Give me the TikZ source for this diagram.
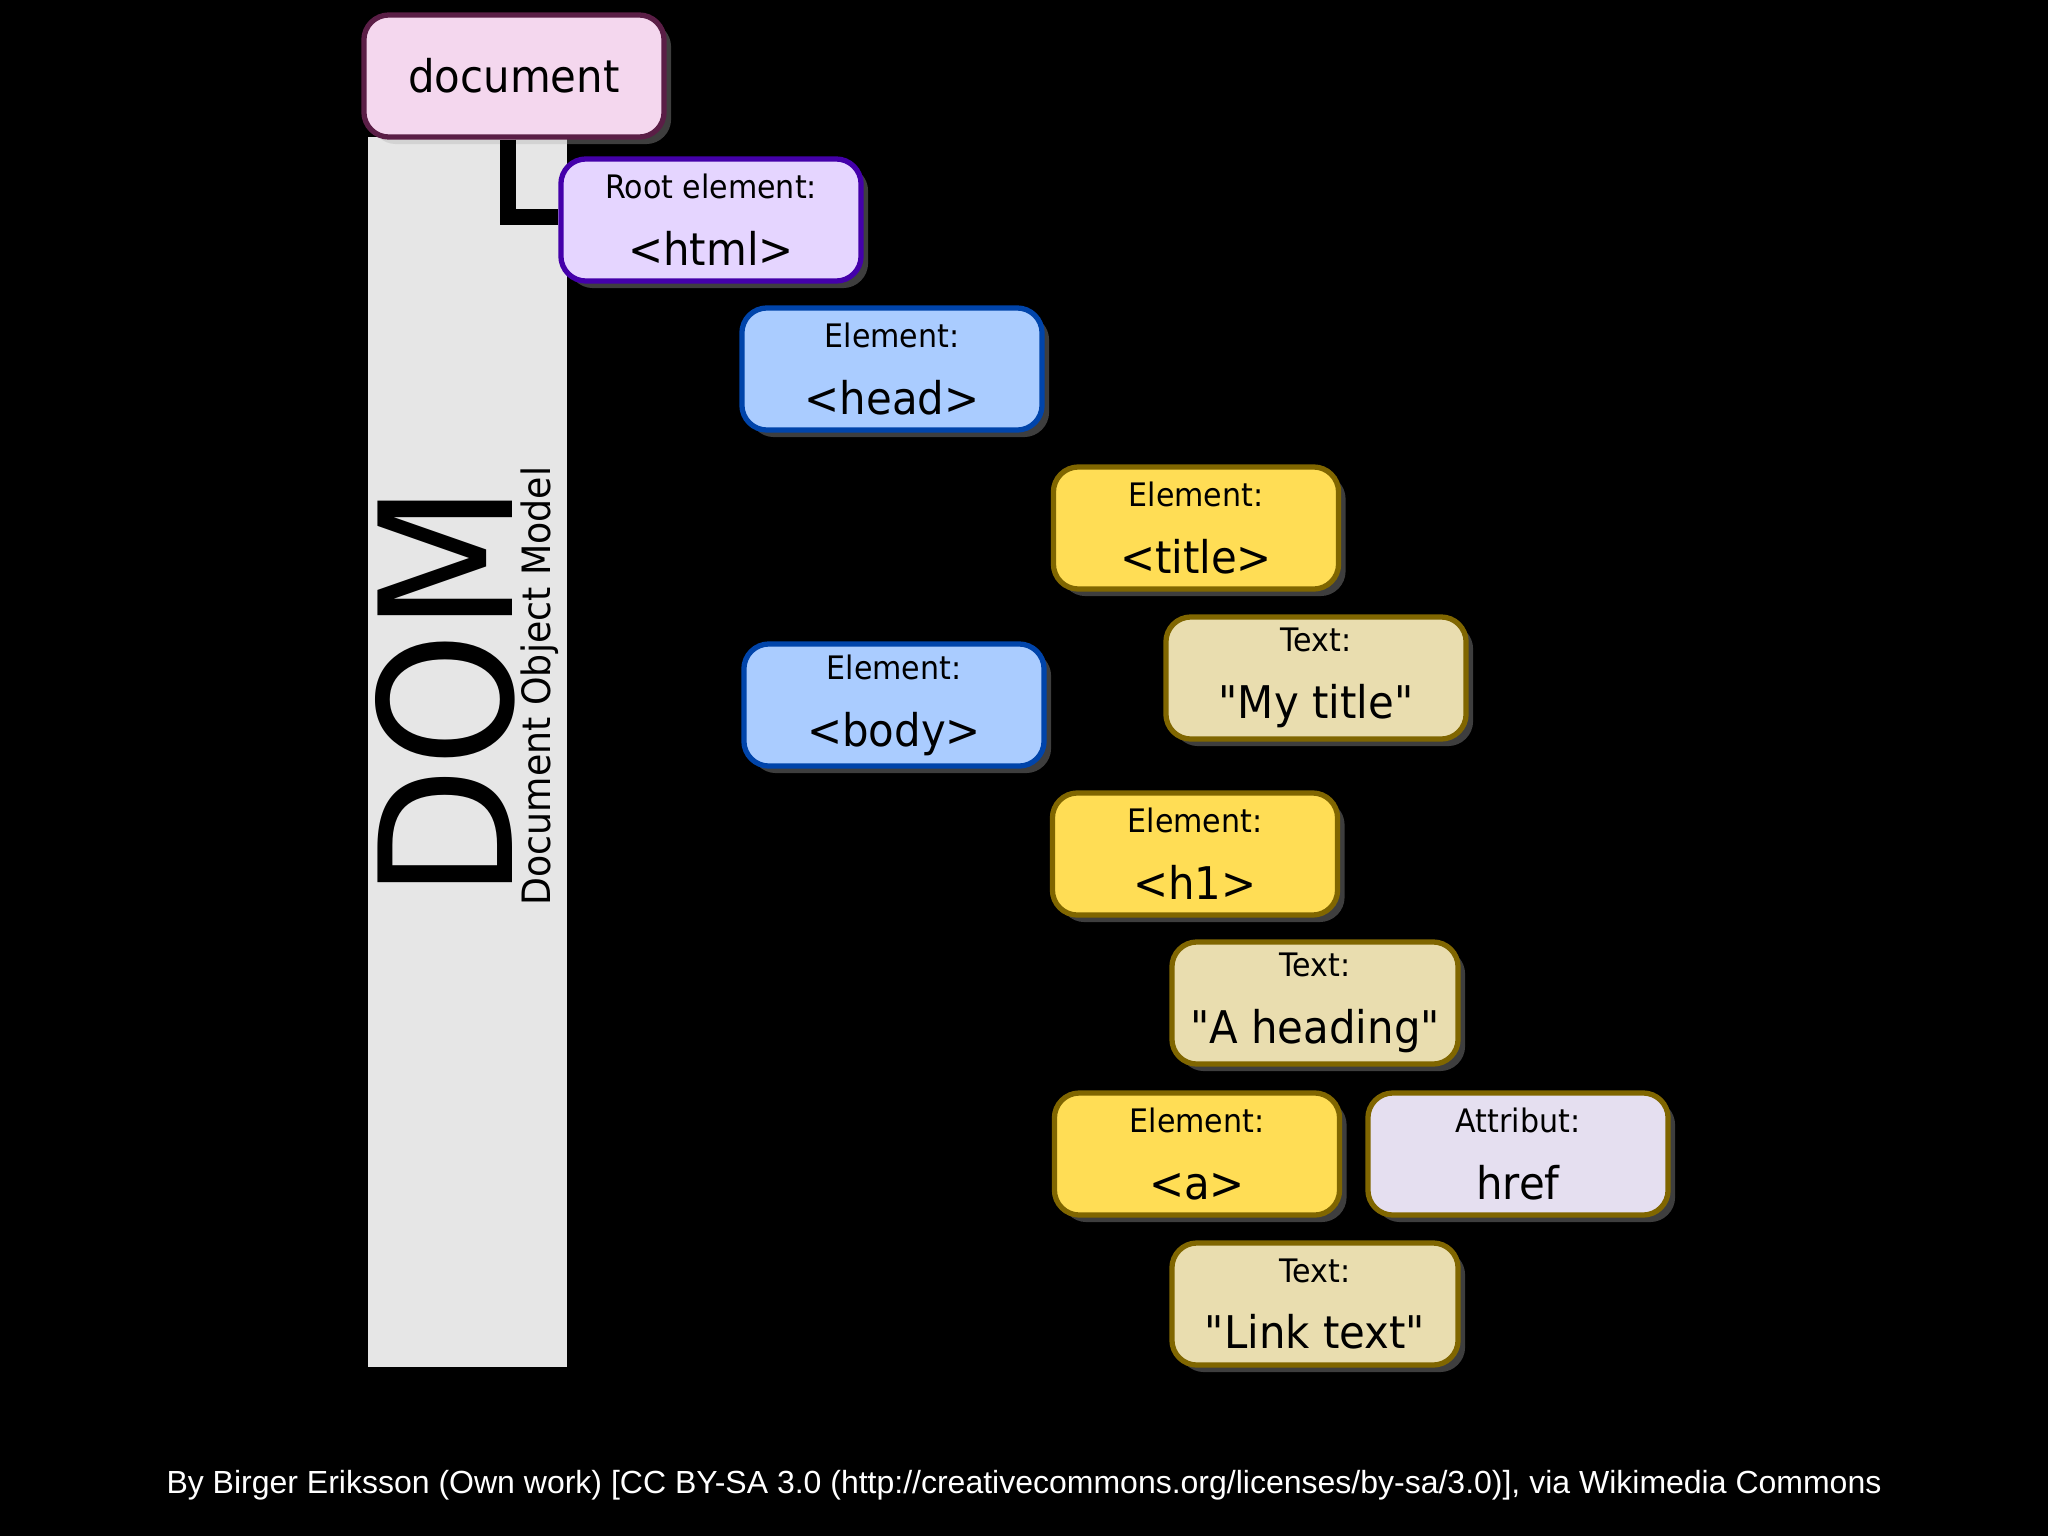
\documentclass[tikz,border=0pt]{standalone}
\usepackage{fontspec}
\usepackage{xcolor}
\usepackage{tikz}
\usetikzlibrary{shadows}
\newfontfamily\boxfont[FakeStretch=0.93]{DejaVu Sans}
\newfontfamily\creditfont{Liberation Sans}
\newcommand\boxlabel{\fontsize{9.2}{11}\selectfont}
\definecolor{kpink}{HTML}{F4D7EE}
\definecolor{kpinkline}{HTML}{5A1E46}
\definecolor{kviolet}{HTML}{E5D5FF}
\definecolor{kvioletline}{HTML}{4400AA}
\definecolor{kblue}{HTML}{AACCFF}
\definecolor{kblueline}{HTML}{0044AA}
\definecolor{kgold}{HTML}{FFDD55}
\definecolor{kgoldline}{HTML}{806600}
\definecolor{ksand}{HTML}{E9DDAF}
\definecolor{klilac}{HTML}{E5DFF0}
\definecolor{kbar}{HTML}{E6E6E6}

\begin{document}
\begin{tikzpicture}[x=0.01cm, y=-0.01cm,
  box/.style={rounded corners=0.25cm, line width=1.5pt, inner sep=0pt,
    minimum width=3.0cm, minimum height=1.22cm, align=center, text=black,
    font=\boxfont\fontsize{12.8}{19}\selectfont,
    drop shadow={shadow xshift=2pt, shadow yshift=-2pt, fill=gray!60, opacity=0.35}},
  docbox/.style={box, fill=kpink, draw=kpinkline},
  rootbox/.style={box, fill=kviolet, draw=kvioletline},
  bluebox/.style={box, fill=kblue, draw=kblueline},
  goldbox/.style={box, fill=kgold, draw=kgoldline, minimum width=2.85cm},
  textbox/.style={box, fill=ksand, draw=kgoldline},
  attrbox/.style={box, fill=klilac, draw=kgoldline}]
\fill[black] (0,0) rectangle (2048,1536);
\fill[kbar] (368,137) rectangle (567,1367);
\node[rotate=90, anchor=base, font=\boxfont\fontsize{52.5}{60}\selectfont] (dom) at (512,692) {DOM};
\node[rotate=90, anchor=base, font=\boxfont\fontsize{11.1}{13}\selectfont] (dommodel) at (550,686) {Document Object Model};

\node[docbox] (doc) at (514,76) {document};
\node[rootbox] (html) at (711,220) {{\boxlabel Root element:}\\<html>};
\node[bluebox] (head) at (892,369) {{\boxlabel Element:}\\<head>};
\node[goldbox] (title) at (1196,528) {{\boxlabel Element:}\\<title>};
\node[textbox] (mytitle) at (1316,678) {{\boxlabel Text:}\\"My title"};
\node[bluebox] (body) at (894,705) {{\boxlabel Element:}\\<body>};
\node[goldbox] (h1) at (1195,854) {{\boxlabel Element:}\\<h1>};
\node[textbox, minimum width=2.86cm] (heading) at (1315,1003) {{\boxlabel Text:}\\"A heading"};
\node[goldbox] (a) at (1197,1154) {{\boxlabel Element:}\\<a>};
\node[attrbox] (href) at (1518,1154) {{\boxlabel Attribut:}\\href};
\node[textbox, minimum width=2.86cm] (linktext) at (1315,1304) {{\boxlabel Text:}\\"Link text"};

\draw[black, line width=4.5pt] ([xshift=-0.06cm]doc.south) |- ([yshift=0.03cm]html.west);

\node[font=\creditfont\fontsize{9.1}{11}\selectfont, text=white] (credit) at (1024,1485)
  {By Birger Eriksson (Own work) [CC BY-SA 3.0 (http://creativecommons.org/licenses/by-sa/3.0)], via Wikimedia Commons};
\end{tikzpicture}
\end{document}
